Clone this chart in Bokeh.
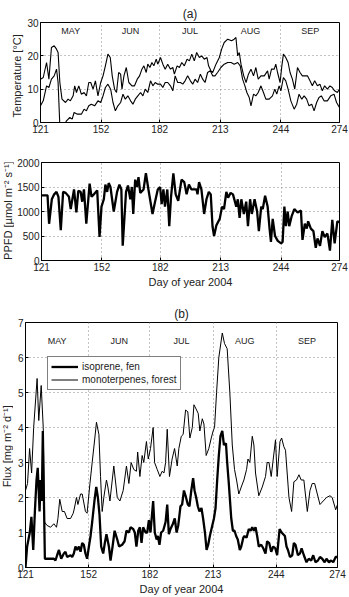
import math
from bokeh.plotting import figure
from bokeh.layouts import column, row
from bokeh.models import Range1d, FixedTicker, Legend, LegendItem, ColumnDataSource
from bokeh.core.properties import value
from bokeh.embed import file_html
from bokeh.resources import INLINE

FONT = "Liberation Sans"

# ---------------- data ----------------
month_starts = [121, 152, 182, 213, 244, 274]
month_names = ["MAY", "JUN", "JUL", "AUG", "SEP"]

# Temperature (upper curve)
t_hi_day = [121, 122.4, 124.1, 125.3, 126.6, 128, 129.2, 130, 130.9, 132, 133.8, 135.1, 136.3, 137.7, 138.5,
            139.4, 140.6, 141.9, 143.3, 144.5, 145.7, 146.7, 147.9, 149.1, 150.4, 151.8, 153, 154.2, 155.5,
            156.7, 157.7, 158.9, 159.9, 161, 162, 162.7, 163.7, 164.9, 166.2, 167.8, 169.1, 170.5, 171.7,
            172.9, 173.9, 175.1, 175.9, 177, 178, 179, 180.2, 181, 182.4, 183.6, 184.8, 186.1, 187.5, 188.7,
            189.5, 190.9, 192.1, 193.3, 194.6, 196, 197.2, 198.4, 199.7, 200.9, 202.3, 203.5, 204.8, 206.2,
            207, 208.2, 209.1, 210.8, 212.5, 213.7, 215, 216.8, 218.8, 220.1, 221, 221.9, 222.7, 223.6, 225,
            226.2, 227.4, 228.7, 230, 231.2, 232.4, 233.8, 235.5, 237.2, 238, 239.2, 240.6, 241.4, 242.3,
            243.6, 244.5, 245.3, 246.5, 247.7, 248.7, 249.9, 251.1, 252.5, 253.8, 255, 256.2, 257.6, 258.9,
            260.1, 261.3, 262.7, 264, 265.2, 266.4, 267.8, 269.1, 270.3, 271.5, 272.9, 274]
t_hi_val = [13, 13.5, 18, 13, 22.5, 23, 22, 21, 12, 7, 6, 7, 6.5, 8, 11,
            9, 11, 8.5, 9, 8, 12, 12, 10, 12.5, 8, 12, 14, 17, 20.5,
            19.5, 14, 10, 9, 15, 14.5, 10, 14, 16.5, 12, 11, 11, 13, 14,
            16, 17, 15, 17.5, 16.5, 18, 17, 19, 17.5, 19.5, 17.5, 16, 17.5, 16, 16.5,
            14.5, 17, 16.5, 18, 17, 19, 18.5, 20.5, 18.5, 21, 19.5, 20, 19, 19.5,
            17, 15.5, 15, 17.5, 19.5, 22, 24, 25, 24.5, 25, 25.5, 20, 21, 17.5, 14,
            12, 14.5, 16, 14, 16.5, 13, 14, 14, 15.5, 13, 16, 16, 17.5, 15,
            12, 17, 20.5, 19.5, 18, 15, 13, 10, 16.5, 15, 14, 14, 14, 12.5,
            11, 12.5, 11, 11.5, 9.5, 11, 10, 11, 10.5, 9.5, 9, 10]

# Temperature (lower curve)
t_lo_day = [121, 122.4, 124.1, 125.3, 126.6, 128, 129.2, 130, 130.9, 132, 133.5, 134.3, 136, 137.2, 138.2,
            139.9, 141.9, 143.3, 144.5, 145.7, 147, 148.7, 150.4, 151.8, 153, 154.2, 155.5, 156.9, 158.1,
            159.3, 160.6, 162, 163.2, 164.4, 165.7, 167.1, 168.3, 169.5, 170.8, 172.2, 173.4, 174.6, 175.9,
            177.3, 178.5, 179.7, 181, 182.4, 183.6, 184.8, 186.1, 187.5, 188.7, 189.9, 191.2, 192.6, 193.8,
            195, 196.3, 197.7, 198.9, 200.1, 201.4, 202.8, 204, 205.2, 206.5, 207.9, 209.1, 210.3, 211.6,
            213.3, 215, 216.8, 218.5, 220.1, 221.9, 223.2, 224.4, 225.6, 226.6, 227.8, 228.7, 230, 231.2,
            232.4, 233.8, 235.1, 236.3, 238, 239.7, 240.9, 241.9, 243.1, 244, 245.3, 246.5, 247.7, 249.1,
            250.8, 252.1, 253.3, 254.7, 255.9, 257.2, 258.4, 259.8, 261, 262.3, 263.5, 264.7, 266.1, 267.8,
            269.5, 271.2, 272.5, 274]
t_lo_val = [5, 6.5, 11, 10.5, 13, 14, 16, 12, -1, -2, -0.5, 0.5, 1.5, 1, 3,
            2.5, 2.5, 4, 3.5, 5, 5.5, 5, 6.5, 6, 8, 10.5, 11.5, 10, 6,
            3.5, 5, 6, 8.5, 7, 8, 6.5, 5.5, 7, 8, 9, 8, 10, 9,
            12.5, 11, 12, 11.5, 11.5, 10.5, 12, 12, 11, 9.5, 14, 12, 12, 11.5,
            12.5, 14, 12.5, 11.5, 13, 12, 14.5, 13, 12, 15, 15.5, 14, 14, 15,
            16.5, 17.5, 18, 18, 17.5, 18, 17, 13, 11, 9, 7.5, 5, 8.5, 8,
            9, 11, 9, 7, 7, 8, 10, 8.5, 11, 9.5, 13.5, 12.5, 10, 6.5,
            4, 5.5, 8.5, 7, 8, 7, 5, 5.5, 3.5, 6, 7.5, 8, 6.5, 6.5,
            8, 8.5, 6, 4.5]

# PPFD
ppfd_day = [121, 122.4, 124.1, 124.9, 126.3, 127.5, 128.7, 129.7, 130.9, 132.1, 133.4, 135.1, 136, 137.7,
            138.9, 139.9, 141.1, 141.9, 142.8, 144, 145.7, 146.7, 147.9, 149.6, 150.8, 151.8, 153, 153.8,
            154.7, 155.5, 156.4, 158.1, 159.8, 161, 162, 162.7, 164.4, 165.4, 166.6, 167.4, 168.1, 169.1,
            170, 170.8, 171.7, 173.4, 174.6, 175.9, 178, 179.3, 180.7, 181.9, 182.7, 183.6, 184.4, 185.6,
            186.6, 187.5, 188.7, 189.9, 191.2, 192.9, 194.3, 195.5, 196.7, 198, 200.6, 201.1, 201.9, 203.1,
            204.5, 205.7, 206.9, 207.9, 208.8, 209.6, 210.8, 212.5, 213.7, 214.7, 215.9, 216.8, 218.1,
            219.3, 221, 221.8, 222.7, 223.6, 224.9, 226.1, 227, 228.1, 229, 230.4, 231.7, 232.6, 233.8,
            234.6, 235.8, 237.1, 238.1, 238.8, 239.7, 240.9, 242.3, 244, 244.8, 245.7, 246.5, 247.4, 248.2,
            249.4, 250.8, 252.5, 254.2, 255, 256.2, 257.2, 257.9, 259.3, 260.6, 261.8, 262.7, 264, 265.2,
            266.4, 267.8, 269.1, 270.3, 271.5, 272.9, 274]
ppfd_val = [1330, 1330, 1330, 750, 1250, 1350, 1400, 1300, 620, 1400, 1380, 1300, 1050, 1450,
            980, 1420, 1400, 1200, 1450, 750, 1570, 1300, 1350, 1430, 480, 1100, 1250, 1550,
            1400, 1580, 1500, 1000, 1400, 1550, 1450, 300, 1400, 1530, 1250, 1500, 950, 1650,
            1500, 1700, 1380, 1450, 1780, 1450, 950, 1200, 1450, 1500, 1150, 1450, 1100, 1450,
            700, 1300, 1780, 1350, 1220, 1650, 1600, 1350, 1550, 1450, 1450, 1350, 1600, 1450,
            950, 1250, 1400, 1350, 700, 500, 720, 850, 1100, 1050, 1400, 1280, 1380,
            1350, 1100, 1250, 870, 1250, 950, 1200, 700, 1250, 950, 1250, 1000, 600, 1100,
            1050, 1320, 1100, 650, 380, 850, 500, 400, 350, 380, 1100, 700, 1000, 700,
            900, 1050, 980, 1020, 420, 750, 650, 800, 650, 600, 260, 450, 300, 600,
            480, 550, 200, 830, 350, 800, 780]

# Isoprene flux (fen)
iso_day = [121, 121.8, 123.1, 123.9, 124.8, 125.6, 126.4, 127, 127.9, 128.4, 129, 129.5, 130.5, 131.6,
           133.3, 134.9, 135.7, 136.5, 137.4, 138.5, 139.8, 140.6, 141.4, 143.1, 143.9, 144.7, 145.5,
           146.3, 147.2, 148, 148.8, 149.6, 150.4, 151.2, 152.1, 152.9, 153.7, 154.8, 155.7, 156.5, 157.3,
           158.1, 159.1, 159.9, 160.7, 161.9, 162.7, 163.7, 164.7, 166, 166.9, 168.4, 169.6, 170.5, 171.7,
           172.5, 173.8, 174.6, 175.4, 176.3, 177.1, 177.9, 178.7, 179.9, 180.7, 181.5, 182.3, 183.6,
           184.4, 185.3, 185.9, 186.7, 187.5, 188.5, 189.7, 190.5, 191.3, 192.1, 193.3, 194.2, 195.1,
           195.9, 197, 197.8, 198.7, 199.5, 200.6, 201.4, 202.3, 203.2, 203.9, 204.7, 205.5, 206.3, 207.3,
           208.1, 209, 209.8, 210.6, 211.4, 212.6, 213.4, 214.2, 215, 215.8, 216.6, 217.5, 218.3, 219.3,
           219.9, 220.7, 221.9, 222.7, 223.5, 224.3, 225.1, 226.1, 226.8, 227.8, 228.4, 229.4, 230.5,
           231.4, 232.2, 233, 233.8, 234.6, 235.4, 236.6, 237.6, 238.7, 239.5, 240.5, 241.5, 242.5, 243.5,
           244.4, 245.6, 246.6, 247.4, 248.2, 249, 249.7, 250.7, 251.8, 252.6, 253.4, 254.6, 255.6, 256.4,
           257.5, 258.8, 259.9, 261.1, 262.1, 263.2, 264.4, 265.4, 266.5, 267.7, 268.6, 269.8, 270.9,
           271.9, 273.1, 274]
iso_val = [0, 0.6, 1.0, 1.45, 0.5, 1.6, 2.5, 2.85, 1.6, 2.5, 1.9, 3.9, 0.25, 0.25,
           0.25, 0.25, 0.2, 0.35, 0.5, 0.25, 0.4, 0.45, 0.3, 0.35, 0.3, 0.4, 0.6,
           0.5, 0.6, 0.45, 0.7, 0.65, 0.4, 0.25, 0.6, 0.9, 1.3, 1.9, 2.3, 2.0, 1.5,
           0.6, 0.4, 0.7, 0.95, 0.6, 0.2, 0.6, 1.05, 0.8, 0.6, 0.65, 0.75, 1.05, 1.0,
           1.15, 1.1, 1.0, 0.6, 1.05, 1.15, 0.7, 1.15, 1.0, 1.0, 1.35, 1.0, 1.9,
           1.0, 0.8, 0.9, 0.65, 1.0, 1.05, 1.3, 1.8, 0.95, 1.1, 1.25, 1.4, 1.0,
           1.2, 1.75, 1.8, 2.2, 2.05, 1.8, 1.75, 2.2, 2.55, 2.2, 2.0, 1.75, 1.6, 1.7,
           1.4, 1.0, 0.5, 0.65, 0.9, 1.2, 1.4, 1.7, 2.5, 3.2, 3.75, 3.9, 3.5, 3.55,
           3.0, 2.4, 1.4, 1.05, 1.05, 0.9, 0.8, 0.5, 0.6, 0.85, 0.9, 0.85, 1.1,
           1.05, 1.15, 1.05, 1.15, 0.9, 0.6, 0.65, 0.55, 0.4, 0.75, 0.7, 0.45, 0.6, 0.55,
           0.35, 1.1, 1.0, 0.95, 0.9, 0.6, 0.5, 0.3, 0.35, 0.7, 0.65, 0.35, 0.4, 0.55,
           0.35, 0.15, 0.25, 0.2, 0.35, 0.15, 0.2, 0.3, 0.25, 0.15, 0.25, 0.15, 0.2,
           0.15, 0.3, 0.3]

# Monoterpene flux (forest)
mono_day = [121, 122, 123, 124, 125, 126.7, 127.5, 128.7, 129.7, 130.3, 131.6, 133.3, 134.9, 136.2, 136.9,
            137.8, 139, 140.1, 141.4, 143.1, 144.4, 145, 146, 146.7, 148, 148.8, 150.4, 151.2, 152.6, 153.7,
            155, 155.8, 157, 157.8, 158.6, 159.4, 160.7, 161.4, 162.4, 164.3, 166, 167.3, 168.9, 170.5,
            171.7, 172.8, 174.1, 175.4, 176, 177.1, 178.2, 179, 180.3, 181.2, 182.3, 183.6, 184.3, 185.6,
            186.9, 188, 188.9, 189.7, 190.5, 191.6, 192.9, 194.1, 195.4, 196.2, 197.4, 198.3, 199.5, 200.6,
            201.6, 202.8, 203.6, 204.9, 205.7, 206.5, 207.7, 208.5, 209.6, 210.9, 212.1, 213, 213.7, 214.7,
            215.8, 217.5, 218.6, 219.9, 221.2, 222.4, 223.5, 224.5, 225.6, 226.8, 228.1, 229.4, 230.1, 231,
            232.2, 233, 233.8, 235.4, 237.1, 238.7, 239.5, 240.4, 241.5, 242.5, 243.6, 244.4, 245.8, 246.6,
            247.7, 248.5, 250.2, 251.5, 252.6, 253.9, 255.1, 256.2, 257.5, 259.2, 260.5, 261.6, 262.8,
            264.1, 265.4, 267, 268.6, 270.3, 271.4, 273.1, 274]
mono_val = [2.2, 2.4, 3.4, 2.7, 4.0, 5.4, 4.2, 5.2, 4.0, 1.3, 1.2, 1.15, 1.25, 1.15, 1.4,
            1.95, 1.6, 1.6, 1.4, 1.4, 1.55, 1.7, 2.0, 1.8, 2.1, 2.1, 1.6, 1.55, 2.4, 3.0,
            3.7, 4.15, 3.8, 2.6, 1.6, 2.0, 2.5, 2.3, 1.9, 2.9, 2.0, 1.9, 2.2, 2.9,
            2.4, 3.0, 2.8, 2.75, 3.3, 2.6, 3.2, 3.0, 3.6, 3.1, 3.4, 4.0, 3.0, 2.8,
            2.6, 2.75, 2.7, 3.0, 3.95, 2.6, 3.1, 3.4, 2.9, 3.4, 3.75, 3.8, 4.5, 4.45,
            3.7, 4.0, 4.65, 4.5, 4.4, 3.9, 4.25, 4.1, 3.2, 3.4, 3.7, 3.9, 4.0, 5.0,
            6.0, 6.7, 6.4, 6.25, 5.0, 3.5, 2.8, 2.5, 2.1, 2.3, 2.5, 2.8, 3.1, 3.0,
            3.75, 3.5, 2.7, 2.05, 2.3, 2.6, 3.0, 3.0, 2.6, 3.1, 3.65, 2.6, 3.6, 3.7,
            3.45, 3.35, 2.0, 1.6, 2.45, 2.5, 2.65, 2.5, 2.5, 1.6, 2.2, 2.4, 2.4,
            2.1, 1.8, 1.9, 2.0, 2.05, 2.0, 1.65, 1.8]

temp_ticks = [0, 10, 20, 30]
ppfd_ticks = [0, 500, 1000, 1500, 2000]
flux_ticks = [0, 1, 2, 3, 4, 5, 6, 7]

month_mid = [(a + b) / 2 for a, b in zip(month_starts[:-1], month_starts[1:])]

W = 349


def style(p, yticks, xlabel=None):
    p.xaxis.ticker = FixedTicker(ticks=month_starts)
    p.yaxis.ticker = FixedTicker(ticks=yticks)
    for ax in (p.xaxis[0], p.yaxis[0]):
        ax.major_label_text_font = FONT
        ax.major_label_text_font_size = "10px"
        ax.major_label_text_color = "#222222"
        ax.axis_label_text_font = FONT
        ax.axis_label_text_font_size = "11px"
        ax.axis_label_text_font_style = "normal"
        ax.axis_label_text_color = "#222222"
        ax.major_tick_in = 3
        ax.major_tick_out = 0
        ax.minor_tick_line_color = None
        ax.axis_line_color = "black"
        ax.major_tick_line_color = "black"
        ax.major_label_standoff = 2
        ax.axis_label_standoff = 2
    if xlabel:
        p.xaxis.axis_label = xlabel
    p.outline_line_color = "black"
    p.outline_line_alpha = 1
    for g in (p.xgrid[0], p.ygrid[0]):
        g.grid_line_color = "#888888"
        g.grid_line_dash = "1 3"
        g.grid_line_width = 1
    p.xgrid.ticker = FixedTicker(ticks=month_starts)
    p.ygrid.ticker = FixedTicker(ticks=yticks)
    p.background_fill_color = "white"
    p.border_fill_color = "white"


def label_strip(txt, w, h, cx, cy):
    """Narrow blank figure that holds a rotated y-axis title."""
    f = figure(width=w, height=h, output_backend="svg", toolbar_location=None,
               x_range=Range1d(0, w), y_range=Range1d(0, h),
               min_border_left=0, min_border_right=0, min_border_top=0, min_border_bottom=0)
    f.axis.visible = False
    f.grid.visible = False
    f.outline_line_color = None
    f.background_fill_color = "white"
    f.border_fill_color = "white"
    f.text(x=[cx], y=[cy], text=[txt], angle=math.pi / 2, text_font=value(FONT),
           text_font_size="11px", text_color="#222222", text_align="center", text_baseline="middle")
    return f


def add_title(p, txt):
    p.title.text = txt
    p.title.align = "center"
    p.title.text_font = FONT
    p.title.text_font_size = "12px"
    p.title.text_font_style = "normal"
    p.title.text_color = "#222222"
    p.title.standoff = 4


def months(p, y):
    src = ColumnDataSource(dict(x=month_mid, y=[y] * len(month_mid), t=month_names))
    p.text(x="x", y="y", text="t", source=src, text_font=value(FONT), text_font_size="9px",
           text_align="center", text_baseline="middle", text_color="#222222")


# ---------------- (a) temperature ----------------
L1 = 24
p1 = figure(width=W - L1, height=135, output_backend="svg", toolbar_location=None,
            x_range=Range1d(121, 274), y_range=Range1d(0, 30),
            min_border_left=39 - L1, min_border_right=10, min_border_top=22, min_border_bottom=13)
style(p1, temp_ticks)
add_title(p1, "(a)")
p1.line(t_hi_day, t_hi_val, line_color="black", line_width=1.1)
p1.line(t_lo_day, t_lo_val, line_color="black", line_width=1.1)
months(p1, 27.5)
l1 = label_strip("Temperature [°C]", L1, 135, 16, 63)

# ---------------- PPFD ----------------
L2 = 14
p2 = figure(width=W - L2, height=155, output_backend="svg", toolbar_location=None,
            x_range=Range1d(121, 274), y_range=Range1d(0, 2000),
            min_border_left=39 - L2, min_border_right=10, min_border_top=27, min_border_bottom=30)
style(p2, ppfd_ticks, xlabel="Day of year 2004")
p2.line(ppfd_day, ppfd_val, line_color="black", line_width=2.3)
l2 = label_strip("PPFD [µmol m⁻² s⁻¹]", L2, 155, 7, 79)

# ---------------- (b) flux ----------------
L3 = 13
p3 = figure(width=W - L3, height=307, output_backend="svg", toolbar_location=None,
            x_range=Range1d(121, 274), y_range=Range1d(0, 7),
            min_border_left=25 - L3, min_border_right=12, min_border_top=32, min_border_bottom=29)
style(p3, flux_ticks, xlabel="Day of year 2004")
add_title(p3, "(b)")
r_iso = p3.line(iso_day, iso_val, line_color="black", line_width=2.3)
r_mono = p3.line(mono_day, mono_val, line_color="black", line_width=1.0)
months(p3, 6.48)
l3 = label_strip("Flux [mg m⁻² d⁻¹]", L3, 307, 6.5, 152)

leg = Legend(items=[LegendItem(label="isoprene, fen", renderers=[r_iso]),
                    LegendItem(label="monoterpenes, forest", renderers=[r_mono])],
             location=(22, 177), label_text_font=FONT, label_text_font_size="10px",
             label_text_color="#222222", glyph_width=27, glyph_height=13, label_height=13,
             label_standoff=4, padding=3, spacing=0, margin=0,
             border_line_color="black", border_line_width=1, background_fill_color="white",
             background_fill_alpha=1)
p3.add_layout(leg)

layout = column(row(l1, p1, spacing=0), row(l2, p2, spacing=0), row(l3, p3, spacing=0), spacing=0)
open("out.html", "w").write(file_html(layout, INLINE))
